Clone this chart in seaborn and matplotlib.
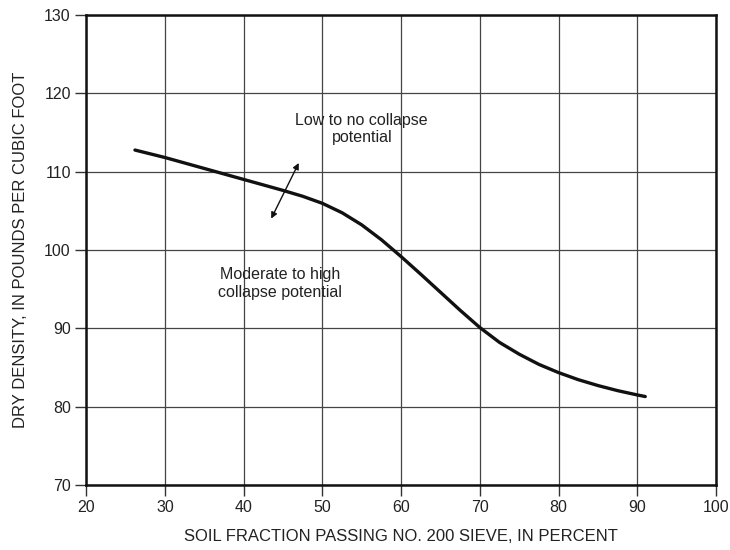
import matplotlib
matplotlib.use("Agg")
import matplotlib.pyplot as plt
import seaborn as sns
import pandas as pd

fines_pct = [26.2, 30, 32.5, 35, 37.5, 40, 42.5, 45, 47.5, 50, 52.5, 55, 57.5, 60,
             62.5, 65, 67.5, 70, 72.5, 75, 77.5, 80, 82.5, 85, 87.5, 90, 91]
dry_density = [112.75, 111.8, 111.1, 110.4, 109.7, 109.0, 108.3, 107.6, 106.85, 105.95, 104.75, 103.2, 101.3, 99.15,
               96.9, 94.6, 92.3, 90.1, 88.2, 86.7, 85.4, 84.35, 83.45, 82.7, 82.05, 81.5, 81.3]

x_ticks = [20, 30, 40, 50, 60, 70, 80, 90, 100]
y_ticks = [70, 80, 90, 100, 110, 120, 130]

df = pd.DataFrame({"x": fines_pct, "y": dry_density})

sns.set_style("white", {"xtick.bottom": True, "ytick.left": True})
plt.rcParams['font.family'] = ['Liberation Sans', 'DejaVu Sans']
plt.rcParams['xtick.bottom'] = True
plt.rcParams['ytick.left'] = True
plt.rcParams['xtick.major.size'] = 8
plt.rcParams['ytick.major.size'] = 8

fig, ax = plt.subplots(figsize=(7.3, 5.5), dpi=100)
fig.subplots_adjust(left=0.118, right=0.981, top=0.973, bottom=0.118)

sns.lineplot(data=df, x="x", y="y", ax=ax, color="#111111", linewidth=2.4, sort=False)

ax.set_xlim(20, 100)
ax.set_ylim(70, 130)
ax.set_xticks(x_ticks)
ax.set_yticks(y_ticks)
ax.grid(True, color="#444444", linewidth=0.9)
ax.set_axisbelow(True)
ax.tick_params(axis="both", which="major", bottom=True, left=True, direction="out",
               length=8, width=1.0, color="#333333",
               labelsize=11.5, labelcolor="#222222", pad=3)
for s in ax.spines.values():
    s.set_color("#111111")
    s.set_linewidth(1.8)

ax.set_xlabel("SOIL FRACTION PASSING NO. 200 SIEVE, IN PERCENT", fontsize=12, color="#222222", labelpad=10)
ax.set_ylabel("DRY DENSITY, IN POUNDS PER CUBIC FOOT", fontsize=12, color="#222222", labelpad=12)

ax.annotate("", xy=(43.5, 104.0), xytext=(47.0, 111.1),
            arrowprops=dict(arrowstyle="<|-|>", color="#111111", lw=1.0,
                            mutation_scale=9, shrinkA=0, shrinkB=0))
ax.text(55.0, 115.4, "Low to no collapse\npotential", ha="center", va="center",
        fontsize=11.5, color="#222222", linespacing=1.2)
ax.text(44.6, 95.7, "Moderate to high\ncollapse potential", ha="center", va="center",
        fontsize=11.5, color="#222222", linespacing=1.2)

fig.savefig("out.png", dpi=100)
